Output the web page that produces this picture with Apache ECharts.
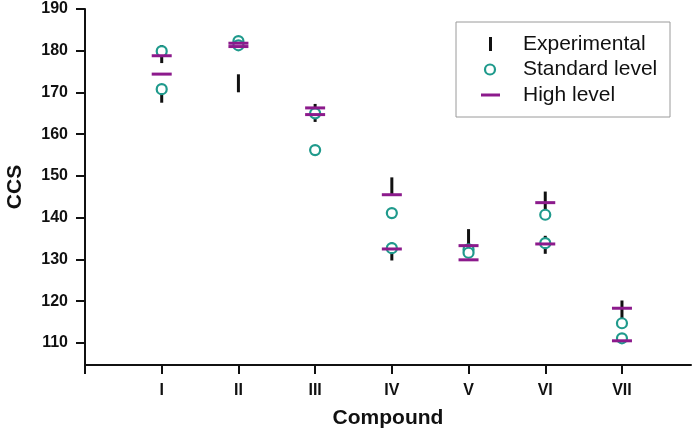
<!DOCTYPE html>
<html>
<head>
<meta charset="utf-8">
<script src="https://cdn.jsdelivr.net/npm/echarts@6/dist/echarts.min.js"></script>
<style>
  html, body { margin: 0; padding: 0; background: #fff; }
  #chart { width: 694px; height: 434px; }
</style>
</head>
<body>
<div id="chart"></div>
<script>
// compounds on the x axis (position 1..7)
var compounds = ['I', 'II', 'III', 'IV', 'V', 'VI', 'VII'];
// CCS values per compound (some compounds have two forms)
var experimental = [[179.2, 169.7], [172.2], [165.1], [147.5, 131.9], [135.1], [144.1, 133.5], [118.0]];
var standardLevel = [[179.9, 170.8], [182.3, 181.3], [165.0, 156.2], [141.1, 132.7], [132.4, 131.6], [140.7, 133.9], [114.7, 111.1]];
var highLevel = [[178.8, 174.4], [181.8, 181.0], [166.3, 164.7], [145.5, 132.5], [133.3, 129.9], [143.6, 133.7], [118.3, 110.5]];
var yTicks = [110, 120, 130, 140, 150, 160, 170, 180, 190];

var FONT = '"Liberation Sans", Arial, sans-serif';
var TEAL = '#1f9a8c';
var PURPLE = '#8c1a8c';

function points(list) {
  var out = [];
  list.forEach(function (vals, i) {
    vals.forEach(function (v) { out.push([i + 1, v]); });
  });
  return out;
}

var myChart = echarts.init(document.getElementById('chart'));

var option = {
  animation: false,
  backgroundColor: '#fff',
  grid: { left: 85, right: 3, top: 9, bottom: 69, outerBoundsMode: 'none', containLabel: false },
  xAxis: {
    type: 'value',
    min: 0,
    max: 7.9,
    name: 'Compound',
    nameLocation: 'middle',
    nameGap: 43,
    nameTextStyle: { fontFamily: FONT, fontWeight: 'bold', fontSize: 21, color: '#111' },
    axisLine: { lineStyle: { color: '#111', width: 2 } },
    axisTick: { show: true, length: 9, lineStyle: { color: '#111', width: 2 },
      customValues: [0, 1, 2, 3, 4, 5, 6, 7] },
    axisLabel: {
      customValues: [1, 2, 3, 4, 5, 6, 7],
      margin: 18,
      fontFamily: FONT, fontWeight: 'bold', fontSize: 16, color: '#111',
      formatter: function (v) { return compounds[v - 1] || ''; }
    },
    splitLine: { show: false }
  },
  yAxis: {
    type: 'value',
    min: 104.7,
    max: 190,
    name: 'CCS',
    nameLocation: 'middle',
    nameGap: 59,
    nameRotate: 90,
    nameTextStyle: { fontFamily: FONT, fontWeight: 'bold', fontSize: 21, color: '#111' },
    axisLine: { show: true, lineStyle: { color: '#111', width: 2 } },
    axisTick: { show: true, length: 9, lineStyle: { color: '#111', width: 2 }, customValues: yTicks },
    axisLabel: {
      customValues: yTicks,
      margin: 17,
      fontFamily: FONT, fontWeight: 'bold', fontSize: 16, color: '#111'
    },
    splitLine: { show: false }
  },
  series: [
    {
      name: 'Experimental',
      type: 'scatter',
      symbol: 'rect',
      symbolSize: [3, 18],
      itemStyle: { color: '#111', opacity: 1 },
      data: points(experimental),
      z: 2
    },
    {
      name: 'Standard level',
      type: 'scatter',
      symbol: 'circle',
      symbolSize: 10,
      itemStyle: { color: '#fff', borderColor: TEAL, borderWidth: 2.2, opacity: 1 },
      data: points(standardLevel),
      z: 3
    },
    {
      name: 'High level',
      type: 'scatter',
      symbol: 'rect',
      symbolSize: [20, 3],
      itemStyle: { color: PURPLE, opacity: 1 },
      data: points(highLevel),
      z: 4
    }
  ],
  graphic: [
    { type: 'rect', shape: { x: 456, y: 22, width: 214, height: 95 },
      style: { fill: '#fff', stroke: '#9a9a9a', lineWidth: 1 }, z: 10 },
    { type: 'rect', shape: { x: 489, y: 37, width: 3, height: 14 }, style: { fill: '#111' }, z: 11 },
    { type: 'circle', shape: { cx: 490, cy: 69.5, r: 5 },
      style: { fill: '#fff', stroke: TEAL, lineWidth: 2.2 }, z: 11 },
    { type: 'rect', shape: { x: 481, y: 93.5, width: 19, height: 3 }, style: { fill: PURPLE }, z: 11 },
    { type: 'text', x: 523, y: 44, z: 11,
      style: { text: 'Experimental', font: '21px ' + FONT, fill: '#111', verticalAlign: 'middle' } },
    { type: 'text', x: 523, y: 69.5, z: 11,
      style: { text: 'Standard level', font: '21px ' + FONT, fill: '#111', verticalAlign: 'middle' } },
    { type: 'text', x: 523, y: 95, z: 11,
      style: { text: 'High level', font: '21px ' + FONT, fill: '#111', verticalAlign: 'middle' } }
  ]
};

myChart.setOption(option);
</script>
</body>
</html>
